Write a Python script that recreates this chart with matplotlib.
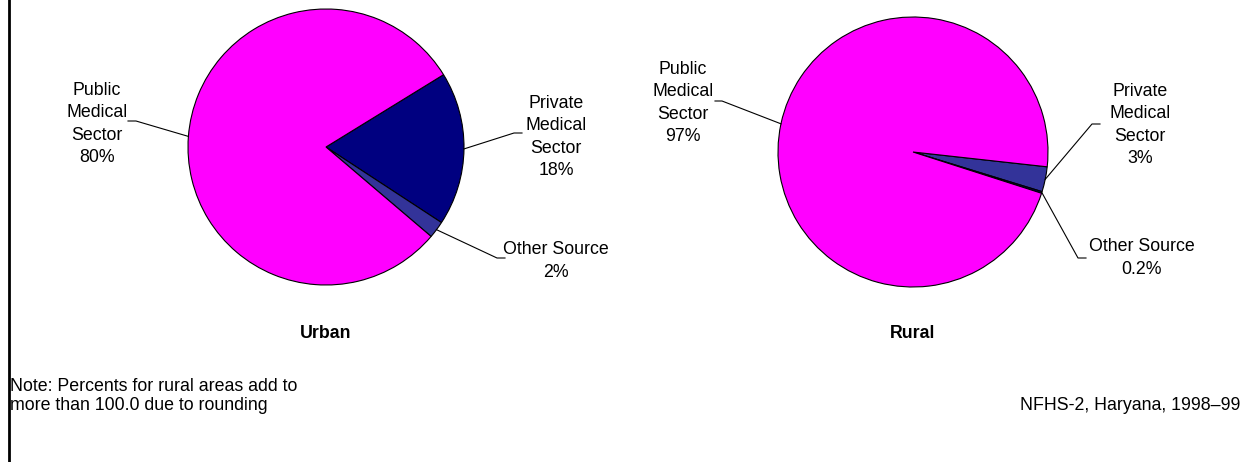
import matplotlib.pyplot as plt
import numpy as np

plt.rcParams['font.family'] = ['Liberation Sans', 'DejaVu Sans']

# slice order: private, other, public (drawn clockwise on screen)
urban_labels = ['Private\nMedical\nSector\n18%', 'Other Source\n2%', 'Public\nMedical\nSector\n80%']
urban_values = [18, 2, 80]
urban_colors = ['#000080', '#333399', '#FF00FF']

rural_labels = ['Private\nMedical\nSector\n3%', 'Other Source\n0.2%', 'Public\nMedical\nSector\n97%']
rural_values = [3, 0.2, 97]
rural_colors = ['#333399', '#000080', '#FF00FF']

W, H = 1257, 462
fig = plt.figure(figsize=(W / 100, H / 100), dpi=100)
ax = fig.add_axes([0, 0, 1, 1])


def draw_pie(values, colors, labels, center, radius, start, elbows, text_pos, title):
    # y axis is inverted, so counterclock=True shows as clockwise
    wedges, _ = ax.pie(values, colors=colors, startangle=start, counterclock=True,
                       center=center, radius=radius, frame=True,
                       wedgeprops=dict(edgecolor='black', linewidth=0.8))
    for w, lab, (ex, ey, hx), (tx, ty) in zip(wedges, labels, elbows, text_pos):
        mid = np.deg2rad((w.theta1 + w.theta2) / 2)
        sx = center[0] + radius * np.cos(mid)
        sy = center[1] + radius * np.sin(mid)
        ax.plot([sx, ex, hx], [sy, ey, ey], color='black', lw=0.8)
        ax.text(tx, ty, lab, ha='center', va='center', fontsize=12.8, linespacing=1.4)
    ax.text(center[0], 333, title, ha='center', va='center', fontsize=12.8, fontweight='bold')


draw_pie(urban_values, urban_colors, urban_labels, (326, 147), 138, -31.6,
         [(514, 133, 522), (497, 258, 505), (136, 121, 128)],
         [(556, 137), (556, 261), (97, 124)], 'Urban')
draw_pie(rural_values, rural_colors, rural_labels, (913, 152), 135, 6.3,
         [(1092, 124, 1100), (1078, 258, 1086), (722, 101, 715)],
         [(1140, 125), (1142, 258), (683, 103)], 'Rural')

ax.set_xlim(0, W)
ax.set_ylim(H, 0)
ax.set_aspect('auto')
ax.axis('off')

ax.plot([9, 9], [0, H], color='black', lw=2)
ax.text(10, 396, 'Note: Percents for rural areas add to\nmore than 100.0 due to rounding',
        ha='left', va='center', fontsize=12.8, linespacing=1.2)
ax.text(1240, 406, 'NFHS-2, Haryana, 1998\u201399', ha='right', va='center', fontsize=12.8)

fig.savefig('out.png', dpi=100)
